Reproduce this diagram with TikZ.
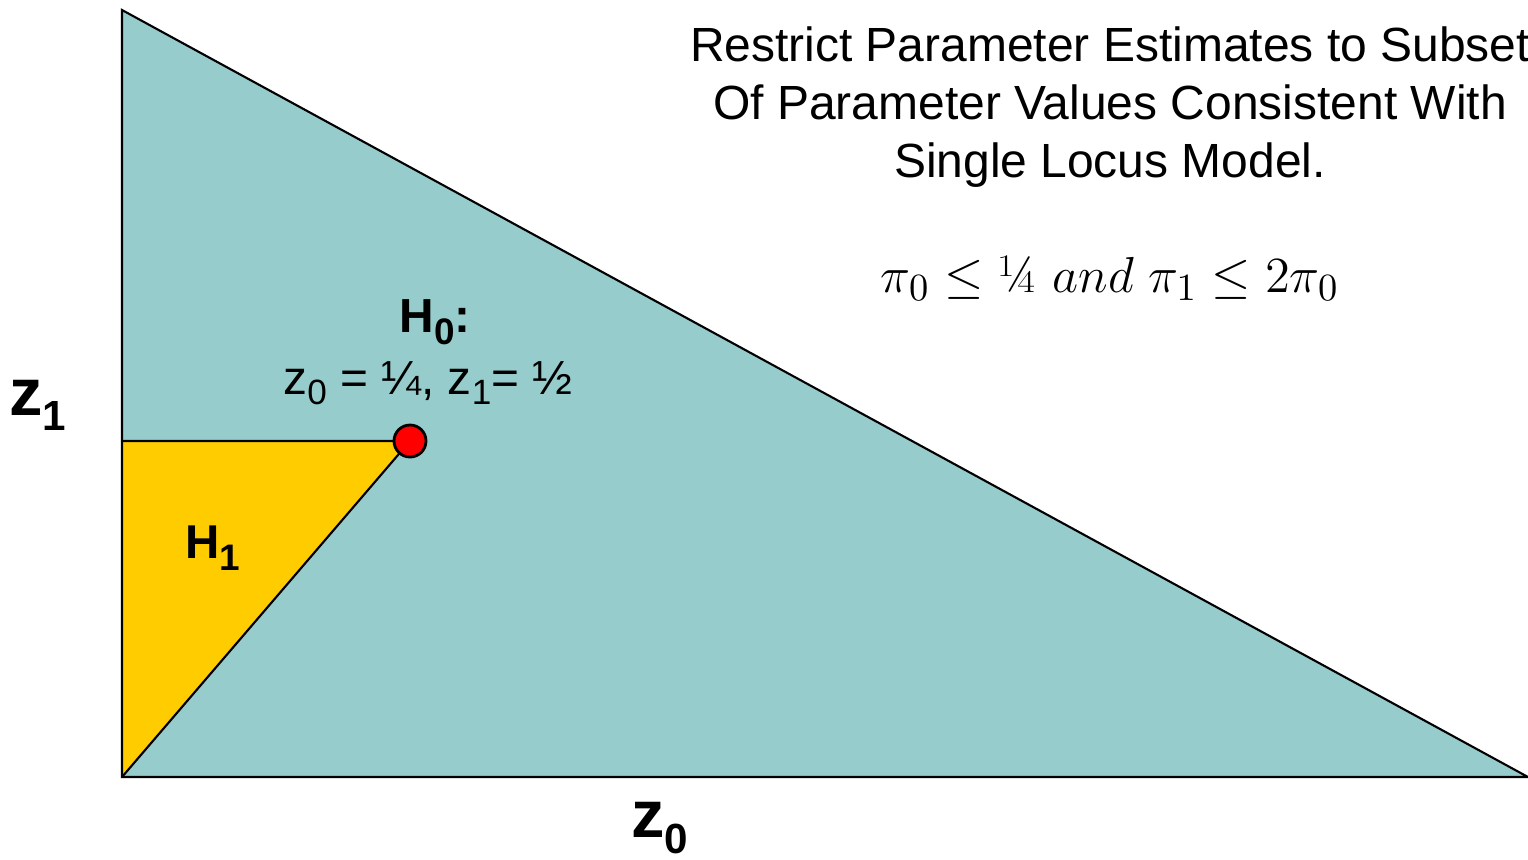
\documentclass[tikz,border=0pt]{standalone}
\usepackage{fontspec}
\setmainfont{Liberation Sans}
\usetikzlibrary{positioning}

\definecolor{simplexfill}{RGB}{151,204,204}
\definecolor{altfill}{RGB}{255,204,0}
\newcommand{\lowsub}[2]{\raisebox{-#1}{#2}}

\begin{document}
\begin{tikzpicture}[line width=0.6pt, every node/.style={inner sep=0pt}]
	\useasboundingbox (0,0) rectangle (15.28,8.59);
	
	% Parameterraum
	\fill[simplexfill] (1.22,8.49) -- (1.22,0.82) -- (15.28,0.82) -- cycle;
	\fill[altfill] (1.22,4.18) -- (4.10,4.18) -- (1.22,0.82) -- cycle;
	\draw (1.22,4.18) -- (4.10,4.18) -- (1.22,0.82);
	\draw (1.22,8.49) -- (1.22,0.82) -- (15.28,0.82) -- cycle;
	
	% Nullhypothese
	\filldraw[fill=red, line width=0.8pt] (4.10,4.18) circle (0.16);
	
	% Achsen
	\node[font=\bfseries\fontsize{19}{19}\selectfont] (zone) at (0.38,4.54)
		{z\lowsub{4.3pt}{\fontsize{12}{12}\selectfont 1}};
	\node[font=\bfseries\fontsize{19}{19}\selectfont] (zzero) at (6.60,0.31)
		{z\lowsub{4.3pt}{\fontsize{12}{12}\selectfont 0}};
	
	% Hypothesen
	\node[font=\bfseries\fontsize{13.6}{13.6}\selectfont] (hzero) at (4.35,5.37)
		{H\lowsub{3.4pt}{\fontsize{10.5}{10.5}\selectfont 0}:};
	\node[font=\fontsize{13.6}{13.6}\selectfont] (hzeroval) at (4.28,4.76)
		{z\lowsub{2.8pt}{\fontsize{10}{10}\selectfont 0} = ¼, z\lowsub{2.8pt}{\fontsize{10}{10}\selectfont 1}= ½};
	\node[font=\bfseries\fontsize{13.5}{13.5}\selectfont] (hone) at (2.13,3.11)
		{H\lowsub{3.4pt}{\fontsize{10.5}{10.5}\selectfont 1}};
	
	% Titel
	\node[align=center, font=\fontsize{13.65}{16.5}\selectfont] (title) at (11.10,7.52)
		{Restrict Parameter Estimates to Subset\\Of Parameter Values Consistent With\\Single Locus Model.};
	\node[font=\fontsize{15}{15}\selectfont] (cond) at (11.10,5.81)
		{$\pi_0 \le \mbox{\fontspec{Latin Modern Roman}¼}\ and\ \pi_1 \le 2\pi_0$};
\end{tikzpicture}
\end{document}
